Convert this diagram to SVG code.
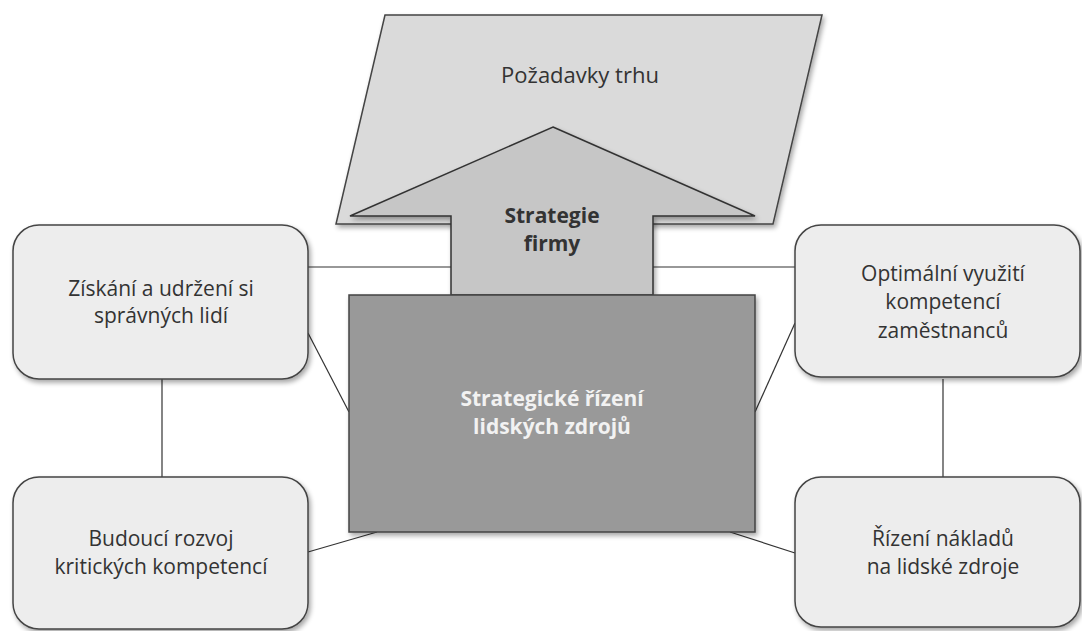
<svg xmlns="http://www.w3.org/2000/svg" width="1082" height="631" viewBox="0 0 1082 631">
<defs>
<filter id="sh" x="-10%" y="-10%" width="125%" height="125%">
<feGaussianBlur in="SourceAlpha" stdDeviation="2.5"/>
<feOffset dx="2" dy="3" result="b"/>
<feComponentTransfer><feFuncA type="linear" slope="0.35"/></feComponentTransfer>
<feMerge><feMergeNode/><feMergeNode in="SourceGraphic"/></feMerge>
</filter>
</defs>
<style>
.box{fill:#ededed;stroke:#444;stroke-width:1.5}
.t{font-family:"Open Sans","Liberation Sans",sans-serif;font-size:21px;fill:#333;text-anchor:middle}
.b{font-weight:bold}
.w{fill:#f2f2f2}
.con{stroke:#333;stroke-width:1.2;fill:none}
</style>
<rect width="1082" height="631" fill="#fff"/>
<g id="connectors">
<line class="con" x1="308" y1="267" x2="452" y2="267"/>
<line class="con" x1="653" y1="267" x2="795" y2="267"/>
<line class="con" x1="308" y1="333" x2="349" y2="412"/>
<line class="con" x1="795" y1="323" x2="755" y2="412"/>
<line class="con" x1="162" y1="379" x2="162" y2="477"/>
<line class="con" x1="943" y1="379" x2="943" y2="477"/>
<line class="con" x1="308" y1="552" x2="377" y2="532"/>
<line class="con" x1="730" y1="532" x2="795" y2="553"/>
</g>
<g id="pozadavky">
<polygon points="385,15 822,15 773,224 336,224" fill="#dadada" stroke="#444" stroke-width="1.5" filter="url(#sh)"/>
<text class="t" x="580" y="83" style="font-size:22px">Požadavky trhu</text>
</g>
<g id="strategie-firmy">
<polygon points="553,127 755,216 653,216 653,295 451,295 451,216 350,216" fill="#c6c6c6" stroke="#333" stroke-width="1.5" filter="url(#sh)"/>
<text class="t b" x="552" y="223">Strategie</text>
<text class="t b" x="552" y="251">firmy</text>
</g>
<g id="strategicke-rizeni">
<rect x="349" y="295" width="406" height="237" fill="#999" stroke="#444" stroke-width="1.5" filter="url(#sh)"/>
<text class="t b w" x="552" y="406">Strategické řízení</text>
<text class="t b w" x="552" y="434">lidských zdrojů</text>
</g>
<g id="ziskani">
<rect class="box" x="13" y="225" width="295" height="154" rx="26" filter="url(#sh)"/>
<text class="t" x="161" y="296">Získání a udržení si</text>
<text class="t" x="161" y="323">správných lidí</text>
</g>
<g id="budouci">
<rect class="box" x="13" y="477" width="295" height="152" rx="26" filter="url(#sh)"/>
<text class="t" x="161" y="546">Budoucí rozvoj</text>
<text class="t" x="161" y="574">kritických kompetencí</text>
</g>
<g id="optimalni">
<rect class="box" x="795" y="225" width="285" height="152" rx="26" filter="url(#sh)"/>
<text class="t" x="943" y="281">Optimální využití</text>
<text class="t" x="943" y="309">kompetencí</text>
<text class="t" x="943" y="338">zaměstnanců</text>
</g>
<g id="rizeni-nakladu">
<rect class="box" x="795" y="477" width="285" height="150" rx="26" filter="url(#sh)"/>
<text class="t" x="943" y="546">Řízení nákladů</text>
<text class="t" x="943" y="574">na lidské zdroje</text>
</g>
</svg>
